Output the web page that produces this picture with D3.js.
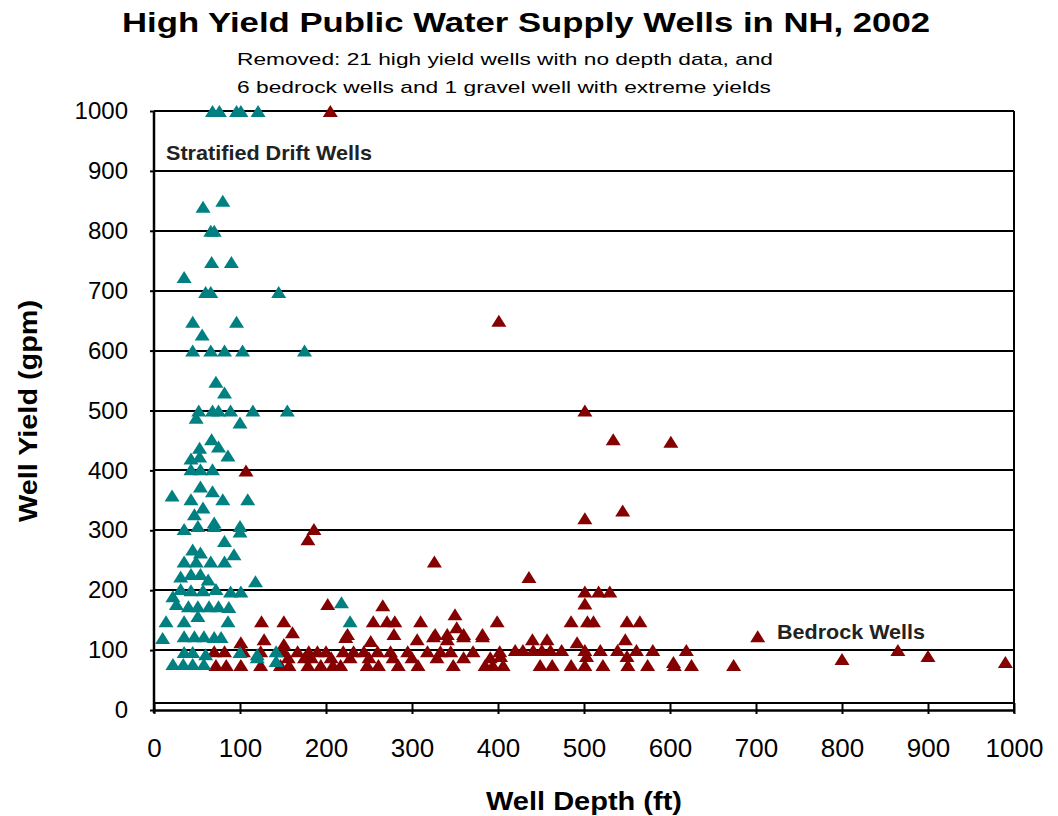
<!DOCTYPE html>
<html>
<head>
<meta charset="utf-8">
<script src="https://cdn.jsdelivr.net/npm/d3@7"></script>
<style>
  html, body { margin: 0; padding: 0; background: #fff; }
  svg { display: block; font-family: "Liberation Sans", Arial, sans-serif; }
</style>
</head>
<body>
<svg id="chart" width="1058" height="816"></svg>
<script>
// ---- Data ----
const titleText = "High Yield Public Water Supply Wells in NH, 2002";
const subtitleLines = [
  "Removed: 21 high yield wells with no depth data, and",
  "6 bedrock wells and 1 gravel well with extreme yields"
];
const xTicks = [0, 100, 200, 300, 400, 500, 600, 700, 800, 900, 1000];
const yTicks = [0, 100, 200, 300, 400, 500, 600, 700, 800, 900, 1000];
const xLabel = "Well Depth (ft)";
const yLabel = "Well Yield (gpm)";
const seriesNames = ["Stratified Drift Wells", "Bedrock Wells"];

// Stratified drift wells: [depth ft, yield gpm]
const stratifiedWells = [
  [68,1000],[76,1000],[96,1000],[101,1000],[121,1000],
  [80,850],[57,840],[66,800],[70,800],[67,748],[90,748],[35,723],[60,698],[66,698],[145,698],
  [45,648],[96,648],[56,627],[45,600],[66,600],[82,600],[103,600],[175,600],
  [72,548],[82,530],[52,500],[68,500],[75,500],[89,500],[115,500],[155,500],
  [49,488],[100,480],[67,452],[75,440],[53,438],[86,425],[43,420],[53,423],
  [43,402],[54,402],[68,402],[21,358],[54,373],[68,365],[43,352],[80,352],[109,352],
  [47,327],[57,338],[70,313],[100,307],
  [35,302],[51,307],[70,307],[100,298],[82,282],[45,268],[54,263],[35,248],[49,248],[66,248],[82,248],[93,260],
  [31,223],[43,227],[54,227],[63,218],[118,215],
  [22,190],[31,202],[43,200],[57,200],[72,202],[89,198],[101,198],
  [26,177],[40,173],[51,173],[64,173],[75,173],[87,172],
  [14,148],[35,148],[51,157],[86,148],
  [10,120],[35,123],[47,123],[58,123],[70,122],[78,122],
  [35,97],[45,97],[60,93],[100,97],[120,93],[142,98],
  [22,77],[34,77],[45,77],[58,77],[142,82],[120,88],
  [218,180],[228,148]
];

// Bedrock wells: [depth ft, yield gpm]
const bedrockWells = [
  [205,1000],[401,650],[501,500],[534,452],[601,448],[545,333],[501,320],[186,302],[179,285],[107,400],
  [326,248],[436,222],[501,198],[517,198],[530,198],[501,178],[202,177],[266,175],[702,123],
  [125,148],[151,148],[161,130],[128,118],[101,113],[151,110],[223,122],
  [255,148],[271,148],[280,148],[310,148],[350,160],[352,138],[399,148],[485,148],[504,148],[511,148],[550,148],[565,148],
  [225,127],[279,127],[327,127],[341,127],[360,127],[382,127],
  [252,115],[306,118],[325,123],[341,118],[360,123],[382,123],
  [440,118],[457,118],[548,118],[492,113],
  [70,98],[82,98],[104,98],[124,98],[151,98],[167,98],[180,98],[190,98],[200,98],[220,98],[232,98],[244,98],
  [260,98],[275,98],[295,98],[318,98],[333,98],[345,98],[371,98],[402,98],[420,100],[429,100],[441,100],
  [451,100],[461,100],[474,100],[501,100],[519,100],[539,100],[561,100],[580,100],[619,100],[865,100],
  [156,88],[175,88],[183,88],[206,88],[228,88],[250,88],[278,88],[300,88],[329,88],[360,88],[391,88],
  [403,90],[503,90],[550,90],[900,90],[800,85],
  [72,75],[84,75],[101,75],[124,75],[147,75],[157,75],[179,75],[194,75],[208,75],[217,75],[248,75],[261,75],
  [284,75],[307,75],[348,75],[385,75],[394,75],[406,75],[449,75],[463,75],[485,75],[501,75],[522,75],[551,75],
  [574,75],[605,75],[625,75],[674,75],[604,80],[990,80]
];

// ---- Layout ----
const svg = d3.select("#chart");
const x = d3.scaleLinear().domain([0, 1000]).range([154, 1014]);
const y = d3.scaleLinear().domain([0, 1000]).range([710, 111]);

const colors = { strat: "#008080", bed: "#850000" };

// Title
svg.append("text")
  .attr("x", 526).attr("y", 32)
  .attr("text-anchor", "middle")
  .attr("font-size", 27).attr("font-weight", "bold")
  .attr("textLength", 808).attr("lengthAdjust", "spacingAndGlyphs")
  .text(titleText);

svg.selectAll("text.sub").data(subtitleLines).join("text")
  .attr("class", "sub")
  .attr("x", 237)
  .attr("y", (d, i) => 65 + i * 28)
  .attr("font-size", 17)
  .attr("textLength", (d, i) => i === 0 ? 536 : 534)
  .attr("lengthAdjust", "spacingAndGlyphs")
  .text(d => d);

// Gridlines
const grid = svg.append("g");
grid.selectAll("line").data(yTicks.filter(d => d > 0)).join("line")
  .attr("x1", x(0)).attr("x2", x(1000))
  .attr("y1", d => Math.round(y(d))).attr("y2", d => Math.round(y(d)))
  .attr("stroke", "#000").attr("stroke-width", 2);

// Right border
svg.append("line")
  .attr("x1", x(1000)).attr("x2", x(1000))
  .attr("y1", y(1000)).attr("y2", y(0) + 3)
  .attr("stroke", "#000").attr("stroke-width", 2);

// Double bottom line
svg.append("line")
  .attr("x1", x(0)).attr("x2", x(1000))
  .attr("y1", y(0) - 7).attr("y2", y(0) - 7)
  .attr("stroke", "#000").attr("stroke-width", 2);

const fmt = d3.format("d");

// X axis
const xAxis = svg.append("g")
  .attr("transform", `translate(0,${y(0)})`)
  .call(d3.axisBottom(x).tickValues(xTicks).tickFormat(fmt).tickSize(4).tickSizeOuter(0).tickPadding(25));
xAxis.select(".domain").attr("stroke", "#000").attr("stroke-width", 2.5);
xAxis.selectAll(".tick line").attr("stroke", "#000").attr("stroke-width", 2).attr("y1", -7);
xAxis.selectAll(".tick text").attr("font-size", 26).attr("fill", "#000")
  .attr("font-family", "Liberation Sans, Arial, sans-serif");

// Y axis
const yAxis = svg.append("g")
  .attr("transform", `translate(${x(0)},0)`)
  .call(d3.axisLeft(y).tickValues(yTicks).tickFormat(fmt).tickSize(4).tickSizeOuter(0).tickPadding(22));
yAxis.select(".domain").attr("stroke", "#000").attr("stroke-width", 2.5)
  .attr("d", `M0,${y(1000)}V${y(0) + 3}`);
yAxis.selectAll(".tick line").attr("stroke", "#000").attr("stroke-width", 2);
yAxis.selectAll(".tick text").attr("font-size", 24).attr("fill", "#000")
  .attr("font-family", "Liberation Sans, Arial, sans-serif");

// Axis titles
svg.append("text")
  .attr("x", 584).attr("y", 810)
  .attr("text-anchor", "middle")
  .attr("font-size", 25).attr("font-weight", "bold")
  .attr("textLength", 196).attr("lengthAdjust", "spacingAndGlyphs")
  .text(xLabel);

svg.append("text")
  .attr("transform", `translate(37,411) rotate(-90)`)
  .attr("text-anchor", "middle")
  .attr("font-size", 25).attr("font-weight", "bold")
  .attr("textLength", 222).attr("lengthAdjust", "spacingAndGlyphs")
  .text(yLabel);

// Markers
const tri = "M0,-6L7.5,6L-7.5,6Z";
svg.append("g").selectAll("path").data(bedrockWells).join("path")
  .attr("d", tri)
  .attr("transform", d => `translate(${x(d[0])},${y(d[1])})`)
  .attr("fill", colors.bed);

svg.append("g").selectAll("path").data(stratifiedWells).join("path")
  .attr("d", tri)
  .attr("transform", d => `translate(${x(d[0])},${y(d[1])})`)
  .attr("fill", colors.strat);

// Series labels
svg.append("text")
  .attr("x", 166).attr("y", 160)
  .attr("font-size", 21).attr("font-weight", "bold").attr("fill", "#222")
  .attr("textLength", 206).attr("lengthAdjust", "spacingAndGlyphs")
  .text(seriesNames[0]);

svg.append("text")
  .attr("x", 777).attr("y", 639)
  .attr("font-size", 21).attr("font-weight", "bold").attr("fill", "#222")
  .attr("textLength", 148).attr("lengthAdjust", "spacingAndGlyphs")
  .text(seriesNames[1]);
</script>
</body>
</html>
